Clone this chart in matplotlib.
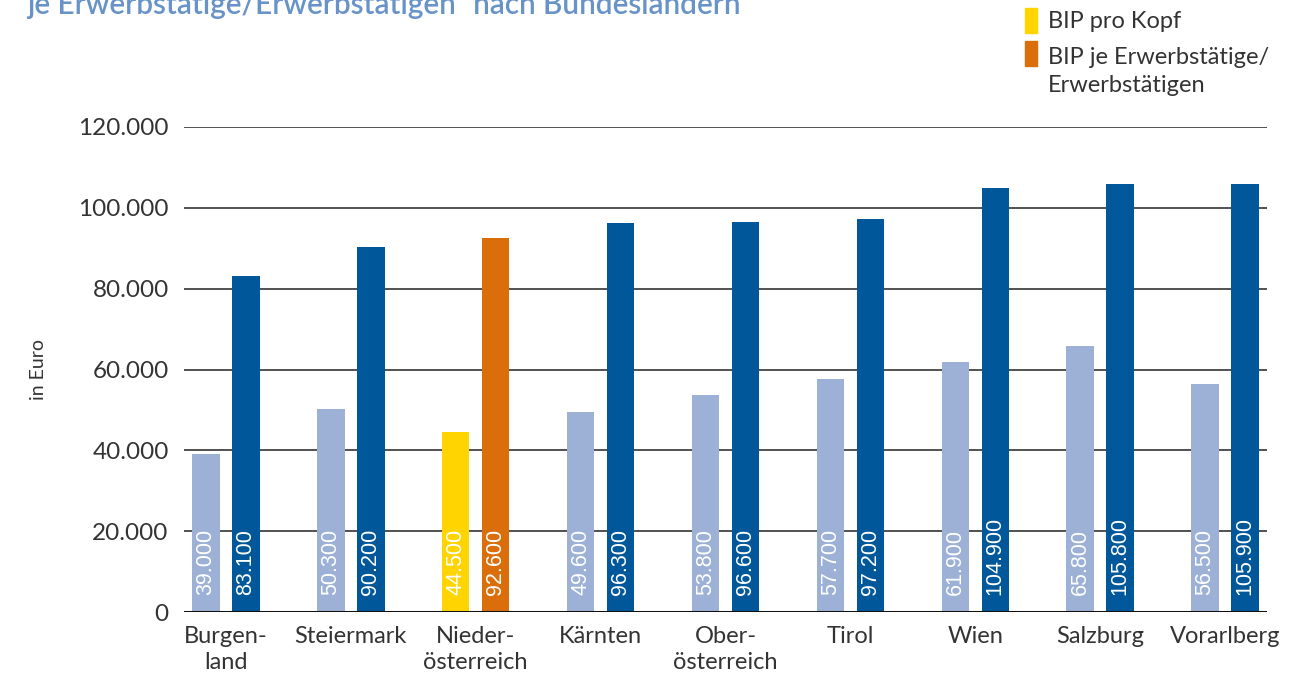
import numpy as np
import matplotlib
matplotlib.use('Agg')
import matplotlib.pyplot as plt
from matplotlib.patches import Rectangle

#########################
######### DATA
#########################

laender = ['Burgen-\nland', 'Steiermark', 'Nieder-\nösterreich', 'Kärnten',
           'Ober-\nösterreich', 'Tirol', 'Wien', 'Salzburg', 'Vorarlberg']
bip_kopf = [39000, 50300, 44500, 49600, 53800, 57700, 61900, 65800, 56500]
bip_erw = [83100, 90200, 92600, 96300, 96600, 97200, 104900, 105800, 105900]
highlight = 2   # Niederösterreich

yticks = [0, 20000, 40000, 60000, 80000, 100000, 120000]
ytick_labels = ['0', '20.000', '40.000', '60.000', '80.000', '100.000', '120.000']

#########################
######### STYLE
#########################

light_blue = '#9db1d6'
dark_blue = '#00579a'
yellow = '#ffd400'
orange = '#da6e0a'
txt_col = '#333333'

plt.rcParams['font.family'] = ['Lato', 'DejaVu Sans']
num_font = ['Liberation Sans Narrow', 'Liberation Sans', 'DejaVu Sans']

def fmt(v):
    return f'{v:,}'.replace(',', '.')

#########################
######### PLOT
#########################

fig = plt.figure(figsize=(13.13, 6.78), dpi=100)
ax = fig.add_axes([0.1401, 0.0973, 0.8249, 0.7154])

x = np.arange(len(laender))
off = 0.16
w = 0.22

c1 = [yellow if i == highlight else light_blue for i in x]
c2 = [orange if i == highlight else dark_blue for i in x]

ax.bar(x - off, bip_kopf, width=w, color=c1, zorder=3)
ax.bar(x + off, bip_erw, width=w, color=c2, zorder=3)

for i in x:
    ax.text(i - off, 4300, fmt(bip_kopf[i]), rotation=90, ha='center', va='bottom',
            color='white', fontsize=15.5, family=num_font, zorder=4)
    ax.text(i + off, 4300, fmt(bip_erw[i]), rotation=90, ha='center', va='bottom',
            color='white', fontsize=15.5, family=num_font, zorder=4)

ax.set_xlim(-0.336, len(laender) - 1 + 0.336)
ax.set_ylim(0, 120000)
ax.set_yticks(yticks)
ax.set_yticklabels(ytick_labels)
ax.set_xticks(x)
ax.set_xticklabels(laender, linespacing=1.3)
ax.tick_params(axis='y', length=0, pad=11, labelsize=17.5, labelcolor=txt_col)
ax.tick_params(axis='x', length=0, pad=10, labelsize=17, labelcolor=txt_col)

for s in ax.spines.values():
    s.set_visible(False)
for yv in yticks[1:]:
    ax.axhline(yv, color='#222222', lw=1.1, zorder=1)
ax.axhline(0, color='#111111', lw=2.2, zorder=5)

ax.set_ylabel('in Euro', fontsize=14, color=txt_col, labelpad=0)
ax.yaxis.set_label_coords(-0.126, 0.5)

# Legende
fig.patches.append(Rectangle((1025 / 1313, 1 - 33 / 678), 12 / 1313, 25 / 678,
                             transform=fig.transFigure, color=yellow))
fig.patches.append(Rectangle((1025 / 1313, 1 - 66 / 678), 12 / 1313, 25 / 678,
                             transform=fig.transFigure, color=orange))
fig.text(1048 / 1313, 1 - 21 / 678, 'BIP pro Kopf', fontsize=17, color=txt_col,
         va='center')
fig.text(1048 / 1313, 1 - 57 / 678, 'BIP je Erwerbstätige/', fontsize=17,
         color=txt_col, va='center')
fig.text(1048 / 1313, 1 - 86 / 678, 'Erwerbstätigen', fontsize=17,
         color=txt_col, va='center')

# Titel (oben abgeschnitten)
fig.text(27 / 1313, 1 - 14 / 678, 'je Erwerbstätige/Erwerbstätigen¹ nach Bundesländern',
         fontsize=21.4, fontweight='semibold', color='#6893c9', va='baseline')

fig.savefig('out.png', dpi=100)
